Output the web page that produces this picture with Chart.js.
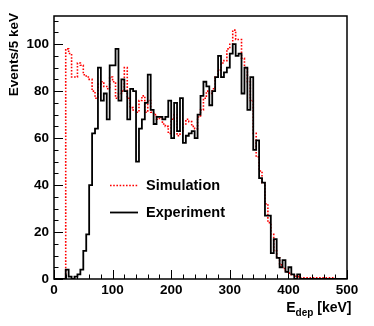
<!DOCTYPE html>
<html><head><meta charset="utf-8">
<script src="https://cdn.jsdelivr.net/npm/chart.js@4/dist/chart.umd.min.js"></script>
<style>html,body{margin:0;padding:0;background:#fff;}#wrap{width:374px;height:326px;}</style>
</head><body><div id="wrap"><canvas id="c" width="374" height="326"></canvas></div>
<script>
// Bin lower edges (keV), 5 keV bins
const binEdges = [0,5,10,15,20,25,30,35,40,45,50,55,60,65,70,75,80,85,90,95,
  100,105,110,115,120,125,130,135,140,145,150,155,160,165,170,175,180,185,190,195,
  200,205,210,215,220,225,230,235,240,245,250,255,260,265,270,275,280,285,290,295,
  300,305,310,315,320,325,330,335,340,345,350,355,360,365,370,375,380,385,390,395,
  400,405,410,415,420,425,430,435,440,445,450,455,460,465,470,475,480,485,490,495];
const upperEdge = 500;

const simulation = [0,0,0,0,98,96,86,86,92,91,
  87,86,85,80,77,83,84,82,81,86,
  84,77,79,80,90,77,73,72,71,76,
  78,71,76,71,70,68,69,66,65,62,
  68,70,61,63,66,68,67,65,64,69,
  72,77,80,79,81,86,89,92,93,98,
  100,106,102,102,94,90,84,76,62,52,
  46,41,32,24,19,12,9,6,4.5,3,
  2.5,1.8,1.2,1,0.5,0.5,0.5,0.5,0.5,0.5,
  0.5,0.5,0.5,0.5,0.5,0.5,0,0,0,0];

const experiment = [0,0,0,0,4,1,0,1,2,4,
  12,19,40,62,64,90,76,79,68,91,
  91,98,76,85,80,68,81,80,50,64,
  68,75,87,72,66,69,69,68,69,76,
  60,75,63,77,58,61,62,63,60,70,
  78,84,82,74,80,86,95,86,88,90,
  96,100,95,96,79,90,72,86,55,59,
  43,41,27,27,11,17,9,5,8,3,
  5,2,0,2,0,0,0,0,0,0,
  0,0,0,0,0,0,0,0,0,0];

const xTicks = [0,100,200,300,400,500];
const yTicks = [0,20,40,60,80,100];
const seriesNames = ['Simulation', 'Experiment'];
const yTitle = 'Events/5 keV';

const FONT = '"Liberation Sans", Arial, Helvetica, sans-serif';

function toPoints(vals) {
  const pts = binEdges.map((e, i) => ({x: e, y: vals[i]}));
  pts.push({x: upperEdge, y: vals[vals.length - 1]});
  return pts;
}

const rootDecor = {
  id: 'rootDecor',
  afterDraw(chart) {
    const {ctx, chartArea: a, scales: {x, y}} = chart;
    ctx.save();
    // ticks (inside)
    ctx.strokeStyle = '#000';
    ctx.lineWidth = 1;
    ctx.beginPath();
    for (let v = 0; v <= 500; v += 20) {
      const px = Math.round(x.getPixelForValue(v)) + 0.5;
      const len = v % 100 === 0 ? 9 : 4.5;
      ctx.moveTo(px, a.bottom); ctx.lineTo(px, a.bottom - len);
    }
    for (let v = 0; v <= 110; v += 5) {
      const py = Math.round(y.getPixelForValue(v)) + 0.5;
      const len = v % 20 === 0 ? 9 : 4.5;
      ctx.moveTo(a.left, py); ctx.lineTo(a.left + len, py);
    }
    ctx.stroke();
    // frame
    ctx.lineWidth = 1.5;
    ctx.strokeRect(a.left, a.top, a.right - a.left, a.bottom - a.top);

    // legend
    const ds = chart.data.datasets;
    const legendRows = [{i: 0, y: 185.5}, {i: 1, y: 212.5}];
    ctx.font = 'bold 14.5px ' + FONT;
    ctx.textBaseline = 'middle';
    ctx.textAlign = 'left';
    legendRows.forEach(r => {
      const d = ds[r.i];
      ctx.beginPath();
      ctx.strokeStyle = d.borderColor;
      ctx.lineWidth = d.borderWidth;
      ctx.setLineDash(d.borderDash || []);
      ctx.moveTo(110, r.y); ctx.lineTo(138, r.y);
      ctx.stroke();
      ctx.setLineDash([]);
      ctx.fillStyle = '#000';
      ctx.fillText(d.label, 146, r.y + 0.5);
    });

    // y title
    ctx.save();
    ctx.translate(14.5, 13);
    ctx.rotate(-Math.PI / 2);
    ctx.font = 'bold 13.5px ' + FONT;
    ctx.textAlign = 'right';
    ctx.textBaseline = 'middle';
    ctx.fillStyle = '#000';
    ctx.fillText(yTitle, 0, 0);
    ctx.restore();

    // x title: E_dep [keV]
    const big = 'bold 14px ' + FONT, small = 'bold 10px ' + FONT;
    ctx.textBaseline = 'alphabetic';
    ctx.textAlign = 'left';
    ctx.font = big; const wE = ctx.measureText('E').width; const wK = ctx.measureText(' [keV]').width;
    ctx.font = small; const wD = ctx.measureText('dep').width;
    let xs = 351.5 - (wE + wD + wK);
    const base = 312;
    ctx.font = big; ctx.fillText('E', xs, base); xs += wE;
    ctx.font = small; ctx.fillText('dep', xs, base + 4); xs += wD;
    ctx.font = big; ctx.fillText(' [keV]', xs, base);
    ctx.restore();
  }
};

new Chart(document.getElementById('c'), {
  type: 'line',
  data: {
    datasets: [
      {label: seriesNames[0], data: toPoints(simulation), stepped: 'before',
       borderColor: '#ff0000', borderWidth: 1.6, borderDash: [1.6, 1.6], fill: false, order: 1},
      {label: seriesNames[1], data: toPoints(experiment), stepped: 'before',
       borderColor: '#000000', borderWidth: 1.8, fill: false, order: 0}
    ]
  },
  options: {
    responsive: false, animation: false, devicePixelRatio: 1,
    layout: {padding: {left: 0, right: 27, top: 16, bottom: 0}},
    plugins: {legend: {display: false}, tooltip: {enabled: false}},
    elements: {point: {radius: 0}, line: {tension: 0}},
    scales: {
      x: {
        type: 'linear', min: 0, max: 500,
        afterFit: s => { s.height = 47; },
        afterBuildTicks: s => { s.ticks = xTicks.map(v => ({value: v})); },
        grid: {display: false, drawTicks: false},
        border: {display: false},
        ticks: {padding: 3, color: '#000', maxRotation: 0, autoSkip: false,
                font: {family: FONT, size: 13.5, weight: 'bold'}}
      },
      y: {
        type: 'linear', min: 0, max: 112,
        afterFit: s => { s.width = 54; },
        afterBuildTicks: s => { s.ticks = yTicks.map(v => ({value: v})); },
        grid: {display: false, drawTicks: false},
        border: {display: false},
        ticks: {padding: 5, color: '#000', font: {family: FONT, size: 13.5, weight: 'bold'}}
      }
    }
  },
  plugins: [rootDecor]
});
</script>
</body></html>
